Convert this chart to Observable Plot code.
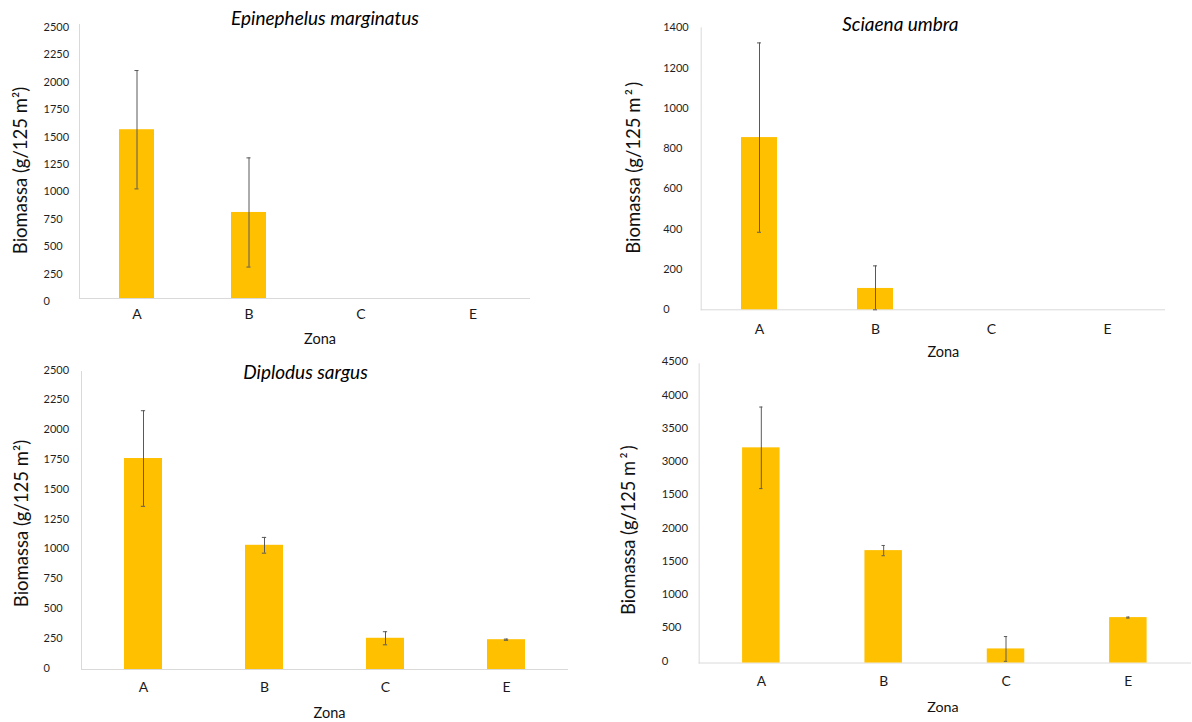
<!DOCTYPE html>
<html>
<head>
<meta charset="utf-8">
<script src="https://cdn.jsdelivr.net/npm/d3@7"></script>
<script src="https://cdn.jsdelivr.net/npm/@observablehq/plot@0.6"></script>
<style>
  html, body { margin: 0; padding: 0; background: #fff; overflow: hidden; width: 1192px; height: 722px; }
  #root { position: relative; width: 1192px; height: 722px; overflow: hidden; }
  .panel { position: absolute; }
  .panel svg { overflow: hidden; display: block; }
</style>
</head>
<body>
<div id="root"></div>
<script>
// ---------- data ----------
const zones = ["A", "B", "C", "E"];

const epinephelusMean = [1540, 785, 0, 0];
const epinephelusErr  = [540, 498, 0, 0];

const sciaenaMean = [855, 106, 0, 0];
const sciaenaErr  = [470, 112, 0, 0];

const diplodusMean = [1770, 1042, 262, 250];
const diplodusErr  = [401, 66, 55, 5];

const totalMean = [3235, 1690, 212, 683];
const totalErr  = [613, 77, 186, 8];

const ticks2500 = [0, 250, 500, 750, 1000, 1250, 1500, 1750, 2000, 2250, 2500];
const ticks1400 = [0, 200, 400, 600, 800, 1000, 1200, 1400];
const ticks4500 = [0, 500, 1000, 1500, 2000, 2500, 3000, 3500, 4000, 4500];
const tickLabels4500 = ["0", "500", "1000", "1500", "2000", "1500", "3000", "3500", "4000", "4500"];

const titles = ["Epinephelus marginatus", "Sciaena umbra", "Diplodus sargus", ""];
const yLabelA = "Biomassa (g/125 m²)";
const yLabelB = "Biomassa (g/125 m\u2009²\u2009)";
const xLabel = "Zona";

// ---------- styles ----------
const BAR = "#FFC000";
const ERR = "#595959";
const AXIS = "#D9D9D9";
const PAD = 0.69;

function panel(cfg) {
  const {left, top, width, height, ml, mr, mt, mb, means, errs, ymax, ticks, tickLabels,
         title, titleDx, titleDy, ylab, ylabDx, ylabDy, zonaDx, zonaDy,
         xTickPad, yTickPad, yTickDy, yTickFont} = cfg;
  const data = zones.map((z, i) => ({zone: z, mean: means[i], err: errs[i]}));
  const shown = data.filter(d => d.mean > 0);
  const bw = (width - ml - mr) / zones.length * (1 - PAD);
  const capInset = bw / 2 - 2;
  const marks = [
    Plot.frame({anchor: "left", stroke: AXIS}),
    Plot.ruleY([0], {stroke: AXIS}),
    Plot.barY(shown, {x: "zone", y: "mean", fill: BAR}),
    Plot.ruleX(shown, {x: "zone", y1: d => Math.max(0, d.mean - d.err), y2: d => d.mean + d.err, stroke: ERR, strokeWidth: 1}),
    Plot.tickY(shown, {x: "zone", y: d => d.mean + d.err, stroke: ERR, strokeWidth: 1, insetLeft: capInset, insetRight: capInset}),
    Plot.tickY(shown, {x: "zone", y: d => Math.max(0, d.mean - d.err), stroke: ERR, strokeWidth: 1, insetLeft: capInset, insetRight: capInset}),
    Plot.axisX({tickSize: 0, tickPadding: xTickPad, fontSize: 14, label: null, fill: "#1a1a1a"}),
    Plot.axisY({ticks: ticks, tickFormat: d => tickLabels ? tickLabels[ticks.indexOf(d)] : String(d),
                tickSize: 0, tickPadding: yTickPad, textAnchor: "start", fontSize: yTickFont, dy: yTickDy,
                label: null, fill: "#1f1f1f"}),
    Plot.text([ylab], {frameAnchor: "left", rotate: -90, dx: ylabDx, dy: ylabDy, fontSize: 18.5,
                       textAnchor: "middle", lineAnchor: "middle", fill: "#111"}),
    Plot.text([xLabel], {frameAnchor: "bottom", dx: zonaDx, dy: zonaDy, fontSize: 14.5,
                         textAnchor: "middle", lineAnchor: "middle", fill: "#111"})
  ];
  if (title) {
    marks.push(Plot.text([title], {frameAnchor: "top", dx: titleDx, dy: titleDy, fontSize: 19,
                                   fontStyle: "italic", textAnchor: "middle", lineAnchor: "middle", fill: "#000"}));
  }
  const chart = Plot.plot({
    width, height,
    marginLeft: ml, marginRight: mr, marginTop: mt, marginBottom: mb,
    style: "background: transparent; font-family: Lato, 'Open Sans', sans-serif; color: #262626; overflow: hidden;",
    x: {domain: zones, paddingInner: PAD, paddingOuter: PAD / 2, align: 0.5, axis: null},
    y: {domain: [0, ymax], axis: null},
    marks
  });
  const div = document.createElement("div");
  div.className = "panel";
  div.style.left = left + "px";
  div.style.top = top + "px";
  div.appendChild(chart);
  document.getElementById("root").appendChild(div);
}

// Panel 1: Epinephelus marginatus
panel({left: 0, top: 0, width: 560, height: 352, ml: 79, mr: 30, mt: 24, mb: 54,
       means: epinephelusMean, errs: epinephelusErr, ymax: 2500, ticks: ticks2500, tickLabels: null,
       title: titles[0], titleDx: 20, titleDy: -6, ylab: yLabelA, ylabDx: -58, ylabDy: 9,
       zonaDx: 15, zonaDy: 41, xTickPad: 11, yTickPad: 36, yTickDy: 3, yTickFont: 11});

// Panel 2: Sciaena umbra
panel({left: 600, top: 0, width: 592, height: 364, ml: 100.7, mr: 27, mt: 27.3, mb: 54.7,
       means: sciaenaMean, errs: sciaenaErr, ymax: 1400, ticks: ticks1400, tickLabels: null,
       title: titles[1], titleDx: -33, titleDy: -3, ylab: yLabelB, ylabDx: -67, ylabDy: -1,
       zonaDx: 10, zonaDy: 43, xTickPad: 14, yTickPad: 38, yTickDy: 0, yTickFont: 11});

// Panel 3: Diplodus sargus
panel({left: 0, top: 355, width: 600, height: 367, ml: 81, mr: 32, mt: 16, mb: 53,
       means: diplodusMean, errs: diplodusErr, ymax: 2500, ticks: ticks2500, tickLabels: null,
       title: titles[2], titleDx: -19.5, titleDy: 1, ylab: yLabelA, ylabDx: -59, ylabDy: 3,
       zonaDx: 4.5, zonaDy: 44, xTickPad: 13, yTickPad: 38, yTickDy: -1.5, yTickFont: 11});

// Panel 4: total
panel({left: 600, top: 355, width: 600, height: 367, ml: 100, mr: 1, mt: 8.3, mb: 55.3,
       means: totalMean, errs: totalErr, ymax: 4500, ticks: ticks4500, tickLabels: tickLabels4500,
       title: titles[3], titleDx: 0, titleDy: 0, ylab: yLabelB, ylabDx: -70.5, ylabDy: 17,
       zonaDx: -2.5, zonaDy: 45, xTickPad: 13, yTickPad: 38, yTickDy: -2, yTickFont: 11.5});
</script>
</body>
</html>
